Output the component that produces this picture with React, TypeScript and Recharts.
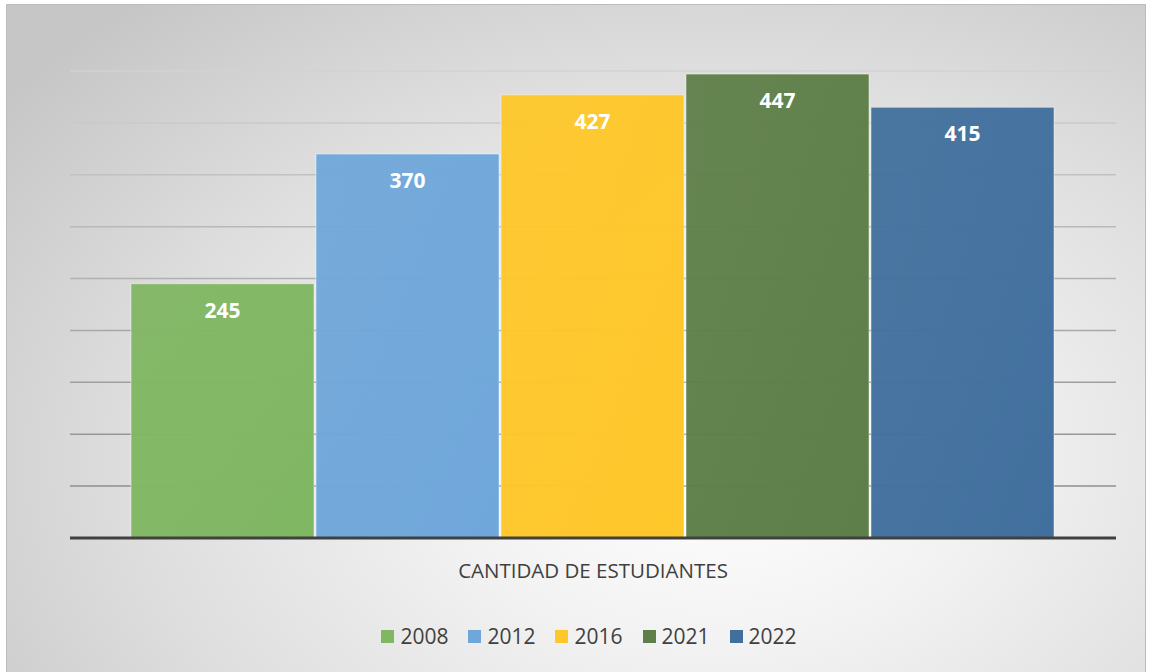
import React from 'react';
import { BarChart, Bar, XAxis, YAxis, CartesianGrid, Legend, LabelList } from 'recharts';

const categories = ['CANTIDAD DE ESTUDIANTES'];
const years = ['2008', '2012', '2016', '2021', '2022'];
const students = [245, 370, 427, 447, 415];
const yTicks = [0, 50, 100, 150, 200, 250, 300, 350, 400, 450];

const colors = ['#80b763', '#70a7da', '#fec72a', '#5e7f49', '#42709e'];

const data = categories.map((name) => {
    const row: Record<string, string | number> = { name };
    years.forEach((y, i) => {
        row['y' + y] = students[i];
    });
    return row;
});

const font = '"Open Sans", "Liberation Sans", sans-serif';

function LegendContent() {
    return (
        <div style={{ display: 'flex', justifyContent: 'center', paddingLeft: 26, fontFamily: font, fontSize: 21, color: '#404040' }}>
            {years.map((y, i) => (
                <div key={y} style={{ display: 'flex', alignItems: 'center', marginRight: i < years.length - 1 ? 20 : 0 }}>
                    <span style={{ display: 'inline-block', width: 13, height: 13, background: colors[i], marginRight: 6 }} />
                    <span>{y}</span>
                </div>
            ))}
        </div>
    );
}

export default function App() {
    return (
        <div style={{ position: 'absolute', left: 0, top: 0, width: 1152, height: 672, background: '#ffffff', overflow: 'hidden' }}>
            {/* framed chart area with Excel-like radial background */}
            <div
                style={{
                    position: 'absolute',
                    left: 6,
                    top: 4,
                    width: 1140,
                    height: 680,
                    boxSizing: 'border-box',
                    border: '1px solid #bcbcbc',
                    background: 'radial-gradient(ellipse 78% 90% at 62% 68%, #ffffff 0%, #f2f2f2 30%, #dedede 65%, #c6c6c6 100%)',
                }}
            />
            <div style={{ position: 'absolute', left: 0, top: 0 }}>
                <BarChart
                    width={1152}
                    height={672}
                    data={data}
                    margin={{ top: 71, right: 36, left: 70, bottom: 74 }}
                    barCategoryGap={61}
                    barGap={2}
                >
                    <defs>
                        <linearGradient id="gridGrad" gradientUnits="userSpaceOnUse" x1="0" y1="71" x2="0" y2="490">
                            <stop offset="0%" stopColor="#d2d2d2" />
                            <stop offset="100%" stopColor="#8e8e8e" />
                        </linearGradient>
                        {colors.map((c, i) => (
                            <linearGradient key={i} id={'barGrad' + i} x1="0" y1="0" x2="1" y2="1">
                                <stop offset="0%" stopColor={c} stopOpacity={0.95} />
                                <stop offset="100%" stopColor={c} stopOpacity={1} />
                            </linearGradient>
                        ))}
                    </defs>
                    <CartesianGrid vertical={false} stroke="url(#gridGrad)" strokeWidth={1.5} />
                    <YAxis hide domain={[0, 450]} ticks={yTicks} />
                    <XAxis
                        dataKey="name"
                        height={60}
                        axisLine={{ stroke: '#404040', strokeWidth: 3 }}
                        tickLine={false}
                        tickMargin={19}
                        tick={{ fill: '#404040', fontSize: 20.5, fontFamily: font }}
                    />
                    {years.map((y, i) => (
                        <Bar
                            key={y}
                            dataKey={'y' + y}
                            name={y}
                            fill={'url(#barGrad' + i + ')'}
                            stroke="#ffffff"
                            strokeOpacity={0.45}
                            strokeWidth={1}
                            isAnimationActive={false}
                        >
                            <LabelList
                                dataKey={'y' + y}
                                position="insideTop"
                                offset={19}
                                fill="#ffffff"
                                fontSize={21}
                                fontWeight="bold"
                                fontFamily={font}
                            />
                        </Bar>
                    ))}
                    <Legend
                        verticalAlign="middle"
                        align="center"
                        content={<LegendContent />}
                        wrapperStyle={{ top: 622, left: 0, width: 1152 }}
                    />
                </BarChart>
            </div>
        </div>
    );
}
